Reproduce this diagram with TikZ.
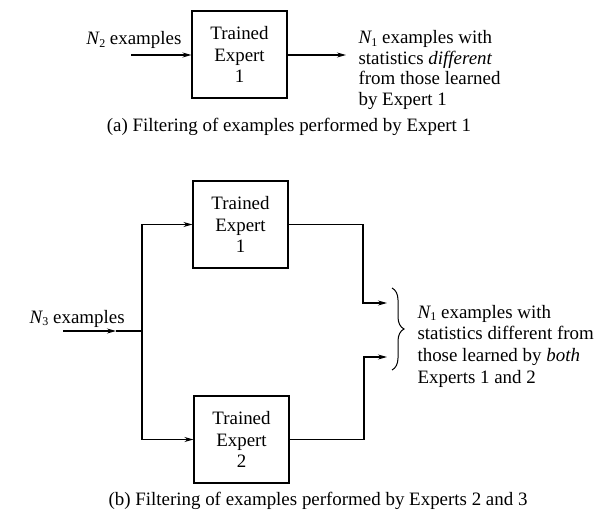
\documentclass[tikz,border=0pt]{standalone}
\usepackage{fontspec}
\setmainfont{Liberation Serif}
\usetikzlibrary{arrows.meta,decorations.pathreplacing}
\newcommand\Nsym[1]{\textit{N}\kern-0.03em\raisebox{-0.3ex}{\fontsize{12}{12}\selectfont #1}}
\begin{document}
\begin{tikzpicture}[x=1bp,y=-1bp, line width=1.1bp,
  font=\fontsize{19}{22}\selectfont,
  expbox/.style={draw, minimum width=95bp, minimum height=87bp, align=center, inner sep=0pt},
  arr/.style={-{Stealth[length=9bp,width=5bp]}},
  lbl/.style={inner sep=0pt}]
\useasboundingbox (0,0) rectangle (611,526);

% ---------- (a) ----------
\node[expbox] (a1) at (239.5,54.5) {Trained\\Expert\\1};
\node[lbl, anchor=base east] (ain) at (182,45) {\Nsym{2} examples};
\coordinate (astart) at (131,55);
\coordinate (aend) at (346,55);
\draw[arr] (astart) -- (astart -| a1.west);
\draw[arr] (a1.east |- aend) -- (aend);
\node[lbl, anchor=base west, font=\fontsize{19}{20.5}\selectfont] (aout) at (358,44)
  {\begin{tabular}[t]{@{}l@{}}\Nsym{1} examples with\\ statistics \textit{different}\\ from those learned\\ by Expert 1\end{tabular}};
\node[lbl, anchor=base] (capa) at (289,132) {(a) Filtering of examples performed by Expert 1};

% ---------- (b) ----------
\node[expbox] (b1) at (240.5,224.5) {Trained\\Expert\\1};
\node[expbox] (b2) at (241.5,439.5) {Trained\\Expert\\2};
\node[lbl, anchor=base west] (bin) at (29,323) {\Nsym{3} examples};
\coordinate (bstart) at (63,331);
\coordinate (bmid) at (116,331);
\coordinate (bsplit) at (142,331);
\draw[arr] (bstart) -- (bmid);
\draw (bmid) -- (bsplit);
\draw[arr] (bsplit) |- (b1.west);
\draw[arr] (bsplit) |- (b2.west);

\coordinate (k1) at (363,303);
\coordinate (j1) at (387,303);
\coordinate (k2) at (364,357);
\coordinate (j2) at (387,357);
\draw[arr] (b1.east) -| (k1) -- (j1);
\draw[arr] (b2.east) -| (k2) -- (j2);

\coordinate (brtop) at (392,288);
\coordinate (brbot) at (392,370);
\draw[decorate, decoration={brace, amplitude=12bp}, line width=1bp] (brtop) -- (brbot);

\node[lbl, anchor=base west] (bout) at (417,318)
  {\begin{tabular}[t]{@{}l@{}}\Nsym{1} examples with\\ statistics different from\\ those learned by \textit{both}\\ Experts 1 and 2\end{tabular}};
\node[lbl, anchor=base] (capb) at (318,505) {(b) Filtering of examples performed by Experts 2 and 3};
\end{tikzpicture}
\end{document}
